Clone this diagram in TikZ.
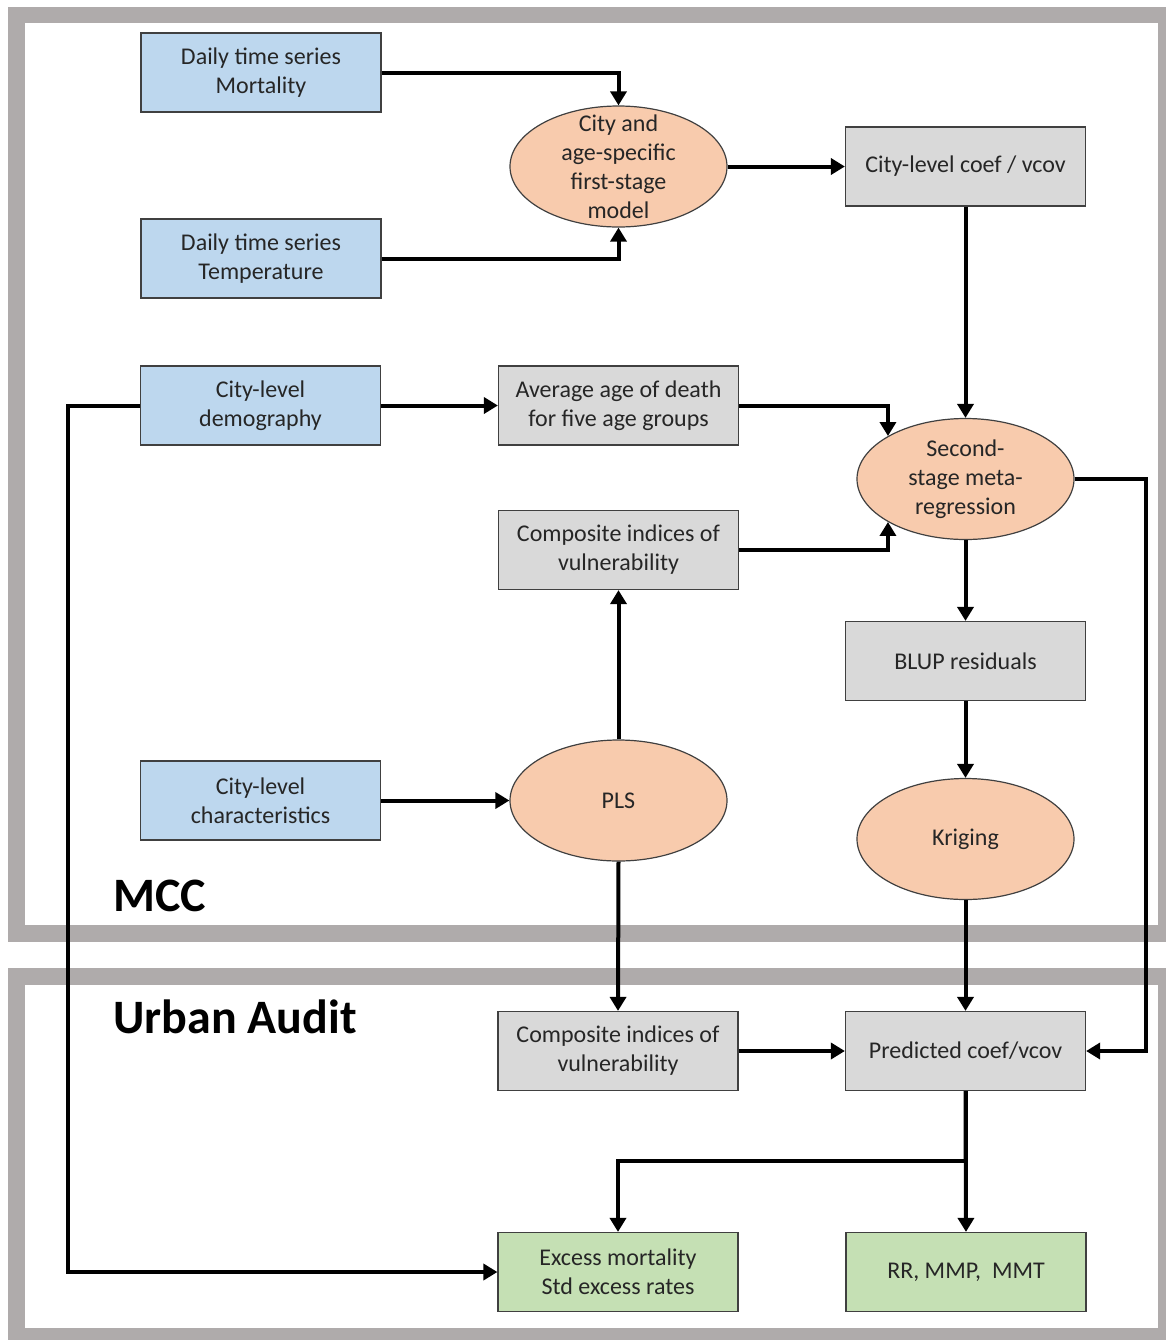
\documentclass[tikz,border=0pt]{standalone}
\usepackage{fontspec}
\setmainfont{Carlito}
\usetikzlibrary{shapes.geometric,arrows.meta}
\definecolor{boxblue}{HTML}{BDD7EE}
\definecolor{ellorange}{HTML}{F8CBAD}
\definecolor{boxgray}{HTML}{D9D9D9}
\definecolor{boxgreen}{HTML}{C5E0B4}
\definecolor{framegray}{HTML}{AFABAB}
\definecolor{txt}{HTML}{262626}
\begin{document}
\begin{tikzpicture}[x=0.5pt,y=-0.5pt,
  box/.style={draw=black!75, line width=0.6pt, minimum width=120pt, minimum height=39.5pt,
    inner sep=0pt, align=center, text=txt, font=\fontsize{12}{14.5}\selectfont},
  bluebox/.style={box, fill=boxblue},
  graybox/.style={box, fill=boxgray},
  greenbox/.style={box, fill=boxgreen},
  ell/.style={ellipse, draw=black!75, line width=0.6pt, fill=ellorange, minimum width=108.5pt,
    minimum height=60.5pt, inner sep=0pt},
  elltext/.style={align=center, text=txt, inner sep=0pt, font=\fontsize{12}{14.5}\selectfont},
  frame/.style={draw=framegray, line width=8.25pt},
  title/.style={anchor=base west, inner sep=0pt, font=\fontsize{24}{26}\selectfont\bfseries},
  arr/.style={line width=2pt, -{Triangle[width=8pt,length=7pt]}}
]
\useasboundingbox (0,0) rectangle (1166,1340);
\clip (0,0) rectangle (1166,1340);
% frames
\draw[frame] (16.5,15) rectangle (1166.5,933.5);
\draw[frame] (16.5,976.5) rectangle (1166.5,1336.5);
\node[title] (mcc) at (113,911) {MCC};
\node[title] (ua) at (113,1033) {Urban Audit};
% nodes
\node[bluebox] (mort) at (261,72.5) {Daily time series\\Mortality};
\node[bluebox] (temp) at (261,258.5) {Daily time series\\Temperature};
\node[ell] (e1) at (618.5,166.5) {};
\node[elltext] at (e1) {City and\\age-specific\\first-stage\\model};
\node[graybox] (coef) at (965.5,166.5) {City-level coef / vcov};
\node[bluebox] (demo) at (260.5,405.5) {City-level\\demography};
\node[graybox] (avg) at (618.5,405.5) {Average age of death\\for five age groups};
\node[ell] (e2) at (965.5,479) {};
\node[elltext] at (e2) {Second-\\stage meta-\\regression};
\node[graybox] (comp1) at (618.5,550) {Composite indices of\\vulnerability};
\node[graybox] (blup) at (965.5,661) {BLUP residuals};
\node[bluebox] (char) at (260.5,800.5) {City-level\\characteristics};
\node[ell] (pls) at (618.5,800.5) {};
\node[elltext] at (pls) {PLS};
\node[ell] (krig) at (965.5,839) {};
\node[elltext] at (krig) {Kriging};
\node[graybox] (comp2) at (618,1051) {Composite indices of\\vulnerability};
\node[graybox] (pred) at (965.5,1051) {Predicted coef/vcov};
\node[greenbox] (excess) at (618,1272) {Excess mortality\\Std excess rates};
\node[greenbox] (rr) at (966,1272) {RR, MMP,\ \ MMT};
% connectors
\draw[arr] (mort.east) -| (e1.north);
\draw[arr] (temp.east) -| (e1.south);
\draw[arr] (e1.east) -- (coef.west);
\draw[arr] (coef.south) -- (e2.north);
\draw[arr] (demo.east) -- (avg.west);
\draw[arr] (avg.east) -| (e2.151);
\draw[arr] (comp1.east) -| (e2.209);
\draw[arr] (e2.south) -- (blup.north);
\draw[arr] (blup.south) -- (krig.north);
\draw[arr] (pls.north) -- (comp1.south);
\draw[arr] (char.east) -- (pls.west);
\draw[arr] (pls.south) -- (comp2.north);
\draw[arr] (krig.south) -- (pred.north);
\draw[arr] (e2.east) -- ++(71,0) |- (pred.east);
\draw[arr] (comp2.east) -- (pred.west);
\draw[arr] (pred.south) -- (rr.north);
\draw[arr] (pred.south) -- ++(0,70) -| (excess.north);
\draw[arr] (demo.west) -- ++(-72,0) |- (excess.west);
\end{tikzpicture}
\end{document}
